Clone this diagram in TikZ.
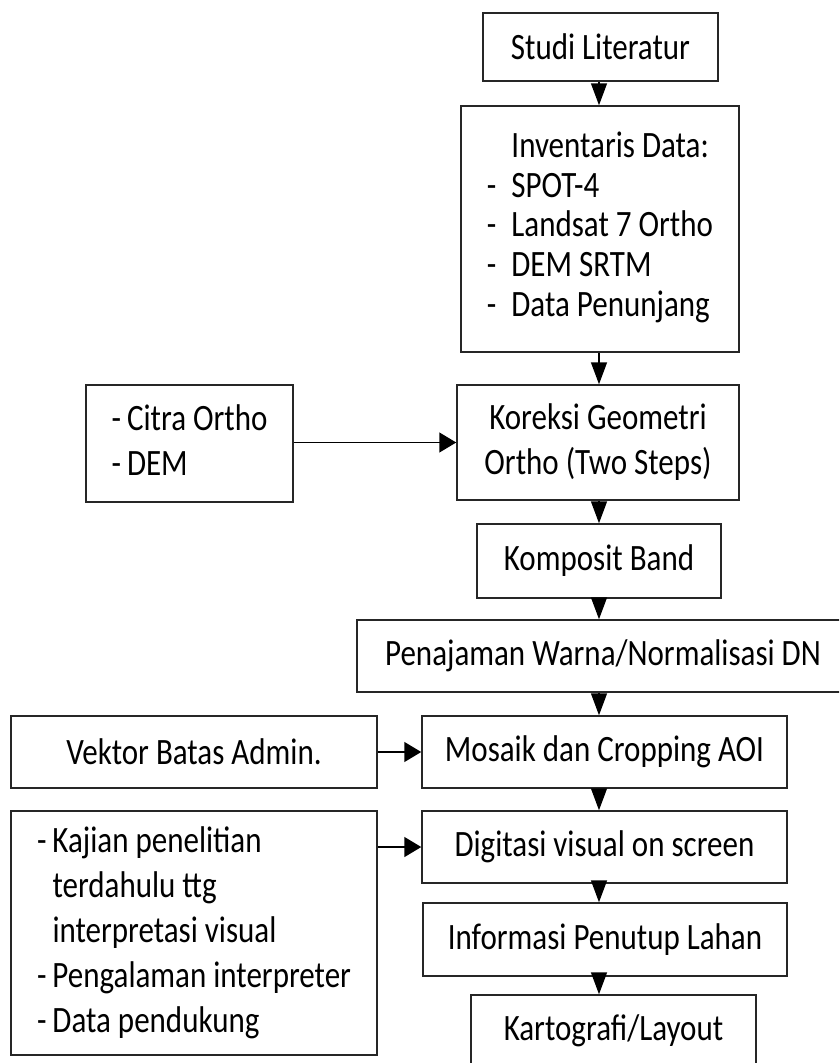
\documentclass[tikz,border=0pt]{standalone}
\usepackage{fontspec}
\setmainfont{Carlito}
\usepackage{graphicx}
\usetikzlibrary{arrows.meta}
\newcommand{\tx}[1]{\scalebox{1}[1.2]{#1}}
\tikzset{
  box/.style={draw=black!85, line width=1.5pt, inner sep=0pt, align=center,
    font=\fontsize{31}{37.5}\selectfont},
  varr/.style={line width=1.5pt, -{Triangle[length=22pt,width=16pt]}},
  harr/.style={line width=1.5pt, -{Triangle[length=17pt,width=20pt]}},
}
\begin{document}
\begin{tikzpicture}[x=1pt,y=-1pt]
\useasboundingbox (0,0) rectangle (839,1063);
\clip (0,0) rectangle (839,1063);
\coordinate (ax) at (599,0);
\node[box, minimum width=235pt, minimum height=68pt] (studi) at (600.5,47) {\tx{Studi Literatur}};
\node[box, minimum width=278pt, minimum height=246pt, font=\fontsize{31}{33}\selectfont] (inv) at (600,229)
  {\tx{\begin{tabular}{@{}l@{\hspace{15pt}}l@{}}
   &Inventaris Data:\\
  -&SPOT-4\\
  -&Landsat 7 Ortho\\
  -&DEM SRTM\\
  -&Data Penunjang
  \end{tabular}}};
\node[box, minimum width=207pt, minimum height=117pt] (citra) at (189.5,443.5)
  {\tx{\begin{tabular}{@{}l@{\hspace{6pt}}l@{}}
  -&Citra Ortho\\
  -&DEM
  \end{tabular}}};
\node[box, minimum width=282pt, minimum height=115pt] (kor) at (598,442.5)
  {\tx{\begin{tabular}{@{}c@{}}Koreksi Geometri\\ Ortho (Two Steps)\end{tabular}}};
\node[box, minimum width=244pt, minimum height=74pt] (komp) at (599,561) {\tx{Komposit Band}};
\node[box, minimum width=492pt, minimum height=72pt] (pen) at (603,656) {\tx{Penajaman Warna/Normalisasi DN}};
\node[box, minimum width=366pt, minimum height=72pt] (vek) at (194,752) {\tx{Vektor Batas Admin.}};
\node[box, minimum width=365pt, minimum height=72pt] (mos) at (604.5,752) {\tx{Mosaik dan Cropping AOI}};
\node[box, minimum width=366pt, minimum height=244pt] (kaj) at (194,933)
  {\tx{\begin{tabular}{@{}l@{\hspace{6pt}}l@{}}
  -&Kajian penelitian\\
   &terdahulu ttg\\
   &interpretasi visual\\
  -&Pengalaman interpreter\\
  -&Data pendukung
  \end{tabular}}};
\node[box, minimum width=365pt, minimum height=72pt] (dig) at (604.5,847) {\tx{Digitasi visual on screen}};
\node[box, minimum width=364pt, minimum height=73pt] (inf) at (605,939.5) {\tx{Informasi Penutup Lahan}};
\node[box, minimum width=285pt, minimum height=72pt] (kar) at (613.5,1031) {\tx{Kartografi/Layout}};

\draw[varr] (studi.south -| ax) -- (inv.north -| ax);
\draw[varr] (inv.south -| ax) -- (kor.north -| ax);
\draw[varr] (kor.south -| ax) -- (komp.north -| ax);
\draw[varr] (komp.south -| ax) -- (pen.north -| ax);
\draw[varr] (pen.south -| ax) -- (mos.north -| ax);
\draw[varr] (mos.south -| ax) -- (dig.north -| ax);
\draw[varr] (dig.south -| ax) -- (inf.north -| ax);
\draw[varr] (inf.south -| ax) -- (kar.north -| ax);
\draw[harr] (citra.east |- kor.west) -- (kor.west);
\draw[harr] (vek.east) -- (mos.west);
\draw[harr] (kaj.east |- dig.west) -- (dig.west);
\end{tikzpicture}
\end{document}
